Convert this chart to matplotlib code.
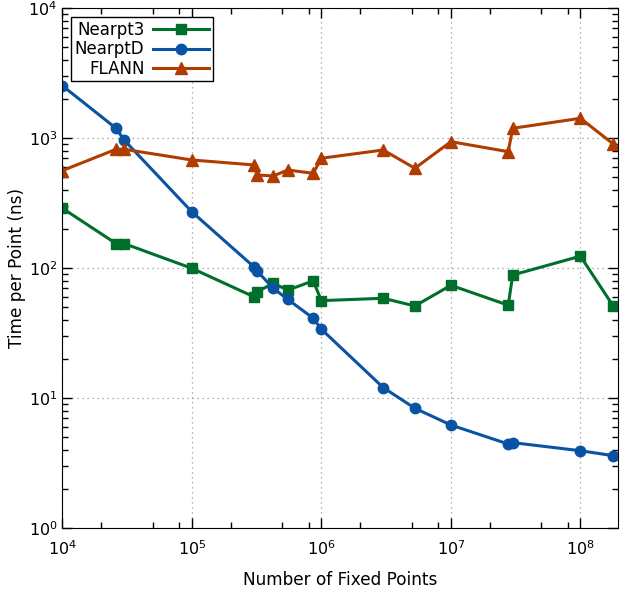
import matplotlib
matplotlib.use("Agg")
import matplotlib.pyplot as plt
from matplotlib.ticker import LogLocator, NullFormatter
import numpy as np

# number of fixed points (shared by all three series)
n_points = [1e4, 2.6e4, 3e4, 1e5, 3e5, 3.2e5, 4.25e5, 5.5e5, 8.65e5, 1e6,
            3e6, 5.27e6, 1e7, 2.77e7, 3e7, 1e8, 1.79e8]

# time per point (ns)
nearpt3 = [290, 155, 155, 100, 60.5, 66, 76.7, 68, 80, 56.4,
           58.8, 51.3, 74, 52, 88.8, 124, 51.3]
nearptd = [2540, 1194, 970, 272, 103, 95, 70.2, 57.7, 41.3, 34,
           12.1, 8.38, 6.23, 4.45, 4.56, 3.95, 3.62]
flann = [564, 823, 823, 681, 624, 522, 513, 570, 538, 702,
         813, 588, 942, 789, 1194, 1425, 904]

plt.rcParams['font.family'] = ['DejaVu Sans']

fig = plt.figure(figsize=(6.21, 5.92), dpi=100)
ax = fig.add_axes([0.1003, 0.1076, 0.8949, 0.8784])

ax.plot(n_points, nearpt3, '-s', color='#006f2c', lw=2.2, ms=7.5, label='Nearpt3')
ax.plot(n_points, nearptd, '-o', color='#0a52a3', lw=2.2, ms=7.5, label='NearptD')
ax.plot(n_points, flann, '-^', color='#b03c02', lw=2.2, ms=8, label='FLANN')

ax.set_xscale('log')
ax.set_yscale('log')
ax.set_xlim(1e4, 1.95e8)
ax.set_ylim(1, 1e4)

ax.xaxis.set_minor_locator(LogLocator(base=10, subs=[2, 5, 8]))
ax.yaxis.set_minor_locator(LogLocator(base=10, subs=np.arange(2, 10)))
ax.xaxis.set_minor_formatter(NullFormatter())
ax.yaxis.set_minor_formatter(NullFormatter())

ax.tick_params(which='both', direction='in', top=True, right=True, labelsize=11.5)
ax.tick_params(which='major', length=7, width=1)
ax.tick_params(which='minor', length=4, width=1)
ax.tick_params(axis='x', pad=8)

ax.grid(True, which='major', linestyle=(0, (1, 3)), color='#999999', lw=0.9)

ax.set_xlabel('Number of Fixed Points', fontsize=12.2, labelpad=9)
ax.set_ylabel('Time per Point (ns)', fontsize=12.2, labelpad=2)

leg = ax.legend(loc='upper left', markerfirst=False, fontsize=12, handlelength=3.4,
                fancybox=False, framealpha=1, edgecolor='black',
                borderaxespad=0.55, labelspacing=0.1, handletextpad=0.5,
                borderpad=0.2)
leg.get_frame().set_linewidth(1)

fig.savefig('out.png', dpi=100)
